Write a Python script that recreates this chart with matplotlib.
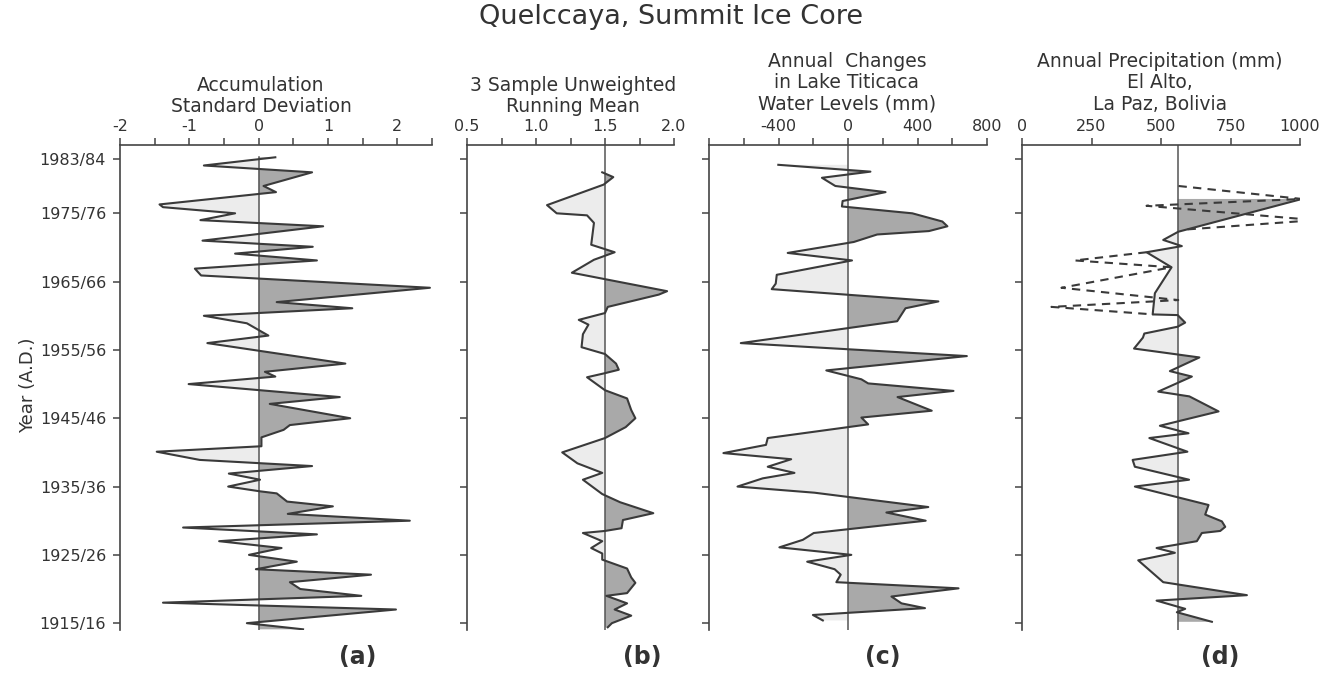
import numpy as np
import matplotlib.pyplot as plt

plt.rcParams['font.family'] = 'DejaVu Sans'

# year positions and values
a_years = [1983.2, 1982.0, 1981.0, 1979.0, 1978.1, 1976.3, 1975.9, 1975.0, 1974.0, 1973.1,
           1971.0, 1970.1, 1969.1, 1968.1, 1966.9, 1965.9, 1964.1, 1962.0, 1961.1, 1960.0,
           1958.9, 1957.1, 1956.0, 1953.0, 1951.8, 1951.1, 1950.0, 1948.1, 1947.1, 1945.0,
           1944.0, 1943.3, 1942.2, 1940.9, 1940.1, 1938.9, 1938.0, 1936.9, 1936.0, 1935.0,
           1934.3, 1934.0, 1932.8, 1932.1, 1931.0, 1930.0, 1929.0, 1928.0, 1927.0, 1926.0,
           1925.0, 1924.0, 1922.9, 1922.1, 1921.0, 1920.0, 1919.0, 1918.0, 1917.0, 1915.0,
           1914.1]
a_vals = [0.24, -0.79, 0.77, 0.07, 0.25, -1.43, -1.38, -0.34, -0.84, 0.93,
          -0.81, 0.78, -0.34, 0.84, -0.92, -0.83, 2.47, 0.26, 1.35, -0.79,
          -0.17, 0.14, -0.74, 1.25, 0.09, 0.24, -1.01, 1.17, 0.16, 1.32,
          0.45, 0.36, 0.04, 0.04, -1.47, -0.85, 0.77, -0.43, 0.02, -0.44,
          0.02, 0.26, 0.41, 1.07, 0.42, 2.18, -1.09, 0.84, -0.57, 0.33,
          -0.14, 0.55, -0.04, 1.62, 0.45, 0.60, 1.48, -1.38, 1.98, -0.17,
          0.64]

b_years = [1981.0, 1980.3, 1979.2, 1976.2, 1975.0, 1974.7, 1973.6, 1970.4, 1969.3, 1968.2,
           1966.3, 1963.6, 1963.1, 1961.3, 1960.4, 1959.4, 1958.7, 1957.3, 1955.4, 1954.4,
           1953.0, 1952.1, 1951.6, 1951.0, 1949.1, 1947.9, 1946.2, 1945.0, 1943.7, 1942.1,
           1940.0, 1938.4, 1937.0, 1936.0, 1933.9, 1932.7, 1931.1, 1930.1, 1928.9, 1928.5,
           1928.2, 1927.0, 1926.0, 1925.2, 1924.3, 1923.0, 1921.7, 1920.9, 1919.4, 1919.0,
           1917.9, 1917.0, 1916.1, 1915.0, 1914.4]
b_vals = [1.48, 1.56, 1.49, 1.08, 1.15, 1.37, 1.42, 1.40, 1.57, 1.42,
          1.26, 1.95, 1.89, 1.52, 1.50, 1.31, 1.38, 1.34, 1.33, 1.50,
          1.58, 1.60, 1.50, 1.37, 1.50, 1.66, 1.69, 1.72, 1.65, 1.50,
          1.19, 1.30, 1.48, 1.34, 1.48, 1.61, 1.85, 1.63, 1.62, 1.50,
          1.34, 1.48, 1.40, 1.48, 1.48, 1.66, 1.69, 1.72, 1.66, 1.51,
          1.66, 1.57, 1.69, 1.55, 1.52]

c_years = [1982.1, 1981.1, 1980.2, 1979.0, 1978.1, 1976.8, 1976.0, 1975.0, 1973.8, 1973.1,
           1972.4, 1971.9, 1970.8, 1969.2, 1968.1, 1966.0, 1964.7, 1963.9, 1962.1, 1961.1,
           1959.2, 1956.0, 1954.1, 1952.0, 1950.7, 1950.1, 1949.0, 1948.1, 1946.1, 1945.1,
           1944.1, 1942.1, 1941.1, 1939.9, 1939.0, 1937.9, 1937.0, 1936.2, 1935.0, 1934.1,
           1932.0, 1931.2, 1930.0, 1928.2, 1927.2, 1926.1, 1925.0, 1924.0, 1922.9, 1922.1,
           1921.0, 1920.1, 1918.9, 1917.9, 1917.2, 1916.2, 1915.4]
c_vals = [-401, 129, -150, -73, 216, -31, -35, 370, 543, 572,
          466, 168, 33, -347, 23, -410, -416, -439, 520, 331,
          283, -617, 684, -125, 77, 116, 607, 285, 482, 77,
          116, -462, -472, -717, -327, -462, -308, -491, -636, -193,
          462, 221, 447, -197, -260, -395, 19, -235, -77, -42,
          -67, 636, 250, 308, 443, -202, -145]

d_years = [1977.1, 1972.3, 1971.1, 1970.2, 1969.3, 1967.1, 1963.3, 1960.2, 1960.1, 1959.0,
           1958.4, 1957.4, 1956.8, 1955.2, 1953.9, 1951.9, 1951.1, 1948.9, 1948.2, 1946.0,
           1943.9, 1942.8, 1942.1, 1940.1, 1938.9, 1937.9, 1936.0, 1935.0, 1932.3, 1930.9,
           1929.9, 1929.1, 1928.5, 1928.2, 1927.0, 1926.0, 1925.3, 1924.2, 1921.0, 1919.1,
           1918.3, 1917.1, 1916.6, 1915.2]
d_vals = [1007, 562, 508, 575, 448, 538, 478, 470, 560, 587,
          560, 440, 435, 403, 638, 532, 611, 490, 602, 707,
          496, 599, 458, 595, 398, 406, 601, 406, 671, 659,
          719, 731, 713, 647, 629, 484, 550, 418, 508, 809,
          484, 587, 557, 683]

# dashed (estimated) parts of the El Alto record
d_dash1_years = [1979.0, 1977.1, 1976.1, 1974.0, 1972.6]
d_dash1_vals = [563, 1007, 448, 1055, 580]
d_dash2_years = [1969.3, 1968.1, 1967.1, 1964.1, 1962.3, 1961.3, 1960.2]
d_dash2_vals = [448, 190, 538, 142, 562, 106, 472]

tick_years = [1983, 1975, 1965, 1955, 1945, 1935, 1925, 1915]
tick_labels = ['1983/84', '1975/76', '1965/66', '1955/56', '1945/46', '1935/36', '1925/26', '1915/16']

line_c = '#3a3a3a'
dark = '#a9a9a9'
light = '#ececec'
txt = '#333333'

fig = plt.figure(figsize=(13.25, 6.75), dpi=100)
H = 675.0
W = 1325.0
bottom = 1 - 630 / H
height = (630 - 145) / H


def panel(left_px, right_px, xlim, major, labels, minor, ref, years, vals, ref_from_top=True):
    ax = fig.add_axes([left_px / W, bottom, (right_px - left_px) / W, height])
    ax.set_xlim(*xlim)
    ax.set_ylim(1914, 1985)
    ax.xaxis.tick_top()
    for s in ['right', 'bottom']:
        ax.spines[s].set_visible(False)
    for s in ['left', 'top']:
        ax.spines[s].set_color('#444444')
        ax.spines[s].set_linewidth(1.2)
    ax.set_xticks(major)
    ax.set_xticklabels(labels)
    ax.set_xticks(minor, minor=True)
    ax.set_yticks(tick_years)
    ax.set_yticklabels([])
    ax.tick_params(which='both', direction='out', length=5, width=1.1, colors='#444444',
                   labelsize=11.5, labelcolor=txt, pad=3)
    y = np.array(years)
    v = np.array(vals)
    ax.fill_betweenx(y, v, ref, where=v >= ref, interpolate=True, facecolor=dark, edgecolor='none')
    ax.fill_betweenx(y, v, ref, where=v <= ref, interpolate=True, facecolor=light, edgecolor='none')
    top = 1985 if ref_from_top else y.max()
    ax.plot([ref, ref], [top, 1914], color='#555555', lw=1.1)
    ax.plot(v, y, color=line_c, lw=1.5)
    return ax


ax_a = panel(120, 432, (-2, 2.5), [-2, -1, 0, 1, 2], ['-2', '-1', '0', '1', '2'],
             [-1.5, -0.5, 0.5, 1.5, 2.5], 0, a_years, a_vals, ref_from_top=False)
ax_a.set_yticklabels(tick_labels)
ax_a.tick_params(axis='y', pad=5)

ax_b = panel(467, 674, (0.5, 2.0), [0.5, 1.0, 1.5, 2.0], ['0.5', '1.0', '1.5', '2.0'],
             [0.75, 1.25, 1.75], 1.5, b_years, b_vals)

ax_c = panel(709, 987, (-800, 800), [-400, 0, 400, 800], ['-400', '0', '400', '800'],
             [-800, -600, -200, 200, 600], 0, c_years, c_vals)

ax_d = panel(1022, 1300, (0, 1000), [0, 250, 500, 750, 1000], ['0', '250', '500', '750', '1000'],
             [], 560, d_years, d_vals)
ax_d.plot(d_dash1_vals, d_dash1_years, color=line_c, lw=1.5, ls=(0, (4, 3)))
ax_d.plot(d_dash2_vals, d_dash2_years, color=line_c, lw=1.5, ls=(0, (4, 3)))

fig.text(671 / W, 1 - 17 / H, 'Quelccaya, Summit Ice Core', ha='center', va='center',
         fontsize=19.5, color=txt)
fig.text(261 / W, 1 - 96 / H, 'Accumulation\nStandard Deviation', ha='center', va='center',
         fontsize=13.5, color=txt, linespacing=1.15)
fig.text(573 / W, 1 - 96 / H, '3 Sample Unweighted\nRunning Mean', ha='center', va='center',
         fontsize=13.5, color=txt, linespacing=1.15)
fig.text(847 / W, 1 - 83 / H, 'Annual  Changes\nin Lake Titicaca\nWater Levels (mm)', ha='center',
         va='center', fontsize=13.5, color=txt, linespacing=1.15)
fig.text(1160 / W, 1 - 83 / H, 'Annual Precipitation (mm)\nEl Alto,\nLa Paz, Bolivia', ha='center',
         va='center', fontsize=13.5, color=txt, linespacing=1.15)
fig.text(28 / W, 1 - 385 / H, 'Year (A.D.)', rotation=90, ha='center', va='center',
         fontsize=13, color=txt)

for lab, xp in [('(a)', 358), ('(b)', 642), ('(c)', 883), ('(d)', 1220)]:
    fig.text(xp / W, 1 - 657 / H, lab, ha='center', va='center', fontsize=17,
             fontweight='bold', color=txt)

fig.savefig('out.png', dpi=100, facecolor='white')
